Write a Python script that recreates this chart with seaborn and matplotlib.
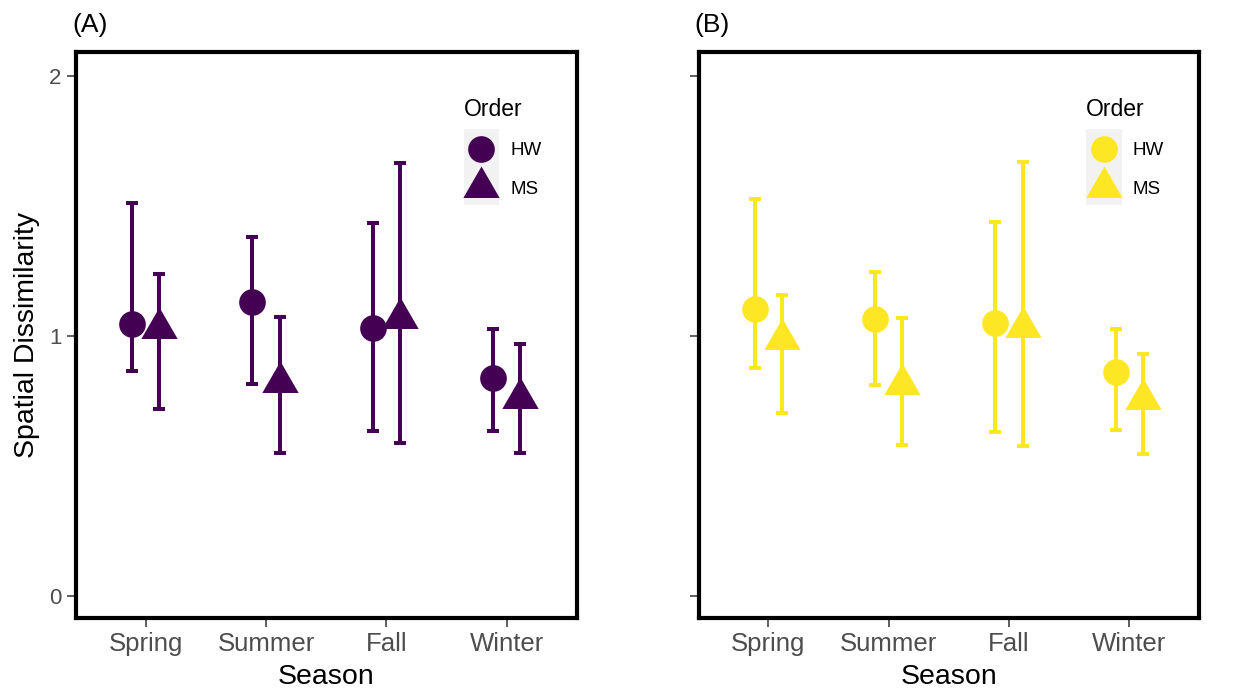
import numpy as np
import pandas as pd
import seaborn as sns
import matplotlib.pyplot as plt
from matplotlib.path import Path
from matplotlib.lines import Line2D
from matplotlib.patches import Rectangle

seasons = ["Spring", "Summer", "Fall", "Winter"]
orders = ["HW", "MS"]
panel_labels = ["(A)", "(B)"]
panel_colors = ["#440154", "#FDE725"]

# panel A (mean, lower, upper)
a_hw_mean = [1.044, 1.131, 1.031, 0.838]
a_hw_low = [0.864, 0.814, 0.635, 0.632]
a_hw_high = [1.509, 1.381, 1.435, 1.025]
a_ms_mean = [1.028, 0.820, 1.067, 0.762]
a_ms_low = [0.717, 0.548, 0.587, 0.548]
a_ms_high = [1.237, 1.071, 1.663, 0.967]

# panel B
b_hw_mean = [1.104, 1.063, 1.048, 0.862]
b_hw_low = [0.875, 0.809, 0.631, 0.638]
b_hw_high = [1.526, 1.245, 1.437, 1.027]
b_ms_mean = [0.986, 0.814, 1.033, 0.757]
b_ms_low = [0.702, 0.580, 0.576, 0.545]
b_ms_high = [1.155, 1.068, 1.668, 0.931]

yticks = [0, 1, 2]


def long_table(hw_mean, hw_low, hw_high, ms_mean, ms_low, ms_high):
    # three rows per group: median gives the mean, min/max give the interval
    rows = []
    groups = [("HW", hw_mean, hw_low, hw_high), ("MS", ms_mean, ms_low, ms_high)]
    for order, mean, low, high in groups:
        for s, m, lo, hi in zip(seasons, mean, low, high):
            for v in (lo, m, hi):
                rows.append({"Season": s, "Order": order, "value": v})
    return pd.DataFrame(rows)


tables = [
    long_table(a_hw_mean, a_hw_low, a_hw_high, a_ms_mean, a_ms_low, a_ms_high),
    long_table(b_hw_mean, b_hw_low, b_hw_high, b_ms_mean, b_ms_low, b_ms_high),
]

sns.set_theme(style="white")
plt.rcParams["font.family"] = ["Liberation Sans", "DejaVu Sans"]

# equilateral triangle like R's pch 17
tri = Path([(0, 1), (-0.866, -0.5), (0.866, -0.5), (0, 1)],
           [Path.MOVETO, Path.LINETO, Path.LINETO, Path.CLOSEPOLY])
CIRCLE_MS = 19.2
TRI_MS = 30.2

fig = plt.figure(figsize=(12.39, 6.94), dpi=100)
axes = [fig.add_axes([0.0613, 0.1095, 0.4040, 0.8160]),
        fig.add_axes([0.5639, 0.1095, 0.4040, 0.8160])]

for i, (ax, df, color, lab) in enumerate(zip(axes, tables, panel_colors, panel_labels)):
    sns.pointplot(data=df, x="Season", y="value", hue="Order",
                  order=seasons, hue_order=orders,
                  estimator="median", errorbar=("pi", 100),
                  dodge=0.227, markers=["o", tri], linestyle="none",
                  palette=[color, color], capsize=0.1,
                  err_kws={"linewidth": 2.9, "solid_capstyle": "butt"},
                  markersize=CIRCLE_MS, markeredgewidth=0,
                  legend=False, ax=ax)
    for line in ax.lines:
        if line.get_marker() is tri:
            line.set_markersize(TRI_MS)

    ax.set_xlim(-0.58, 3.58)
    ax.set_ylim(-0.086, 2.092)
    ax.set_yticks(yticks)
    for sp in ax.spines.values():
        sp.set_visible(True)
        sp.set_color("black")
        sp.set_linewidth(3)
    ax.tick_params(axis="both", which="major", length=6.7, width=1.1,
                   color="#333333", direction="out", left=True, bottom=True)
    ax.tick_params(axis="x", labelsize=18.5, labelcolor="#4D4D4D", pad=3.5)
    ax.tick_params(axis="y", labelsize=16, labelcolor="#4D4D4D", pad=3.6)
    ax.set_xlabel("Season", fontsize=20.5, color="black")
    ax.xaxis.set_label_coords(0.5, -0.104)
    ax.xaxis.label.set_verticalalignment("center")
    if i == 0:
        ax.set_ylabel("Spatial Dissimilarity", fontsize=20.5, color="black")
        ax.yaxis.set_label_coords(-0.098, 0.5)
        ax.yaxis.label.set_verticalalignment("center")
    else:
        ax.set_ylabel("")
        ax.set_yticklabels([])

    ax.text(-0.008, 1.0353, lab, transform=ax.transAxes, fontsize=19,
            ha="left", va="baseline", color="black")

    handles = [
        Line2D([], [], linestyle="none", marker="o", markersize=CIRCLE_MS,
               color=color, markeredgewidth=0),
        Line2D([], [], linestyle="none", marker=tri, markersize=TRI_MS,
               color=color, markeredgewidth=0),
    ]
    leg = ax.legend(handles, orders, title="Order", loc="upper left",
                    bbox_to_anchor=(0.774, 0.919), frameon=False,
                    borderpad=0, borderaxespad=0, handlelength=1.9,
                    handletextpad=0.6, labelspacing=1.14, fontsize=13.5,
                    title_fontsize=16.5, alignment="left")
    for t in leg.get_texts():
        t.set_color("black")
    leg.get_title().set_color("black")
    ax.add_patch(Rectangle((0.7743, 0.7298), 0.0714, 0.1337,
                           transform=ax.transAxes, facecolor="#F2F2F2",
                           edgecolor="none", zorder=1.5))

fig.savefig("out.png", dpi=100)
